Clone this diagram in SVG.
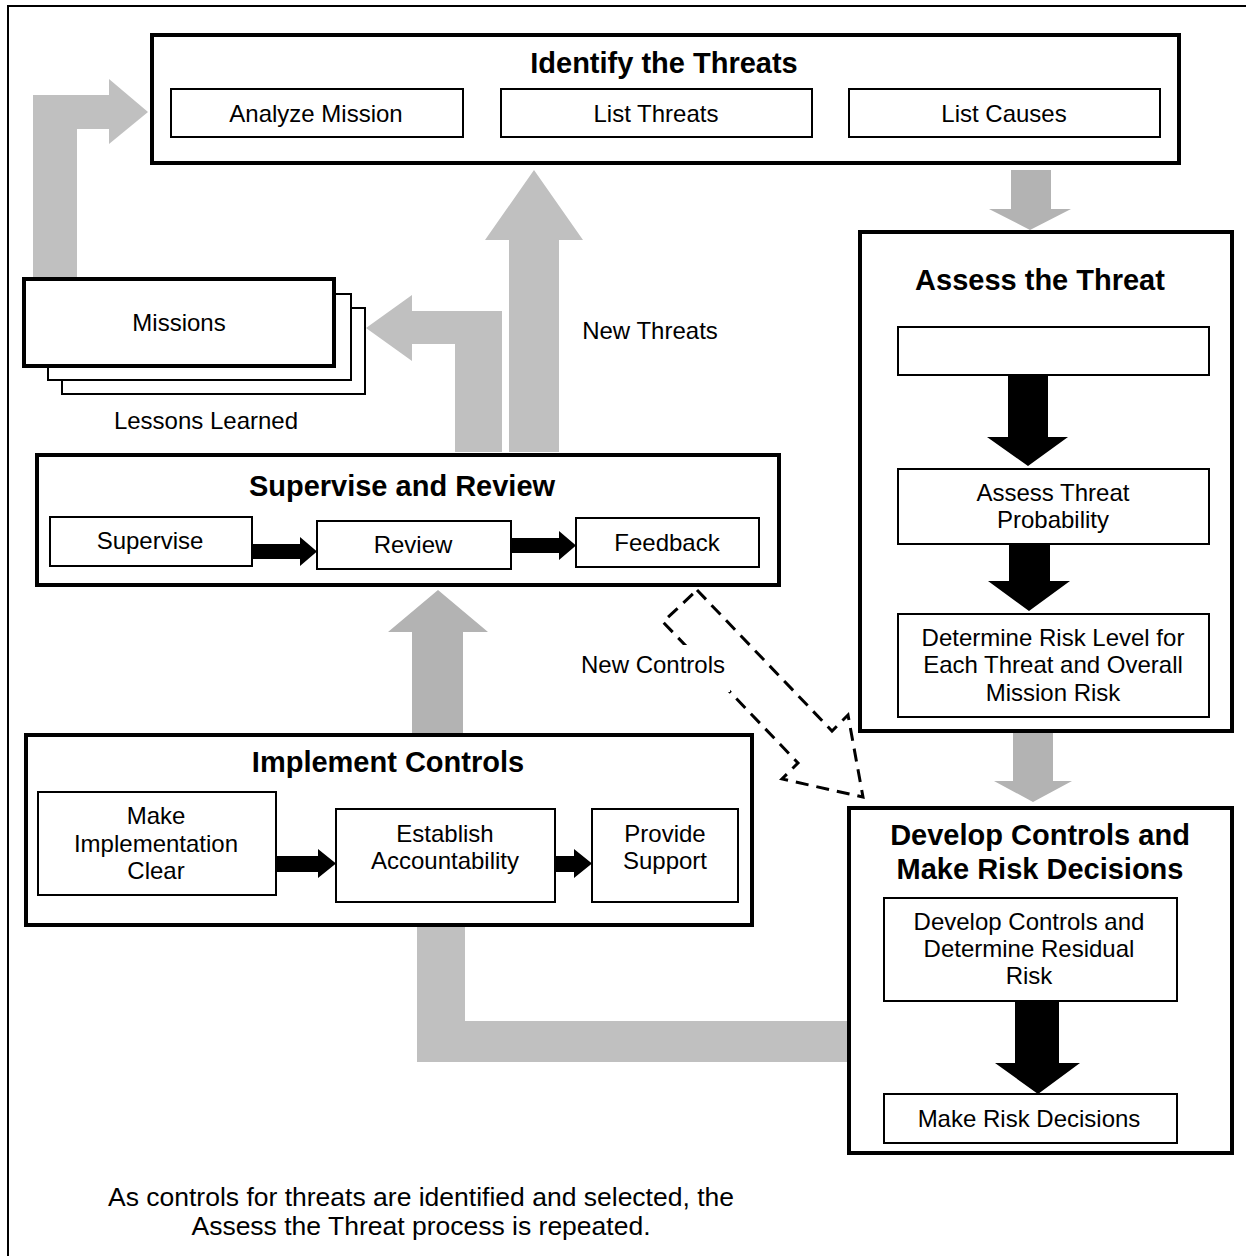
<svg xmlns="http://www.w3.org/2000/svg" width="1246" height="1256" viewBox="0 0 1246 1256">
<style>
text{font-family:"Liberation Sans",Arial,sans-serif;fill:#000;text-anchor:middle}
.t{font-size:24px}
.n{font-size:26.5px}
.h{font-size:29px;font-weight:bold}
.main{fill:#fff;stroke:#000;stroke-width:4}
.sub{fill:#fff;stroke:#000;stroke-width:2}
.g1{fill:#c0c0c0}
.g2{fill:#b3b3b3}
.blk{fill:#000}
.dash{fill:none;stroke:#000;stroke-width:3;stroke-dasharray:13 8}
</style>
<rect x="0" y="0" width="1246" height="1256" fill="#fff"/>
<rect x="8" y="6" width="1260" height="1270" fill="none" stroke="#000" stroke-width="2"/>

<g id="connectors">
<polygon class="g1" points="33,277 33,95 109,95 109,79 148,112 109,144 109,129 77,129 77,277"/>
<polygon class="g2" points="1011,170 1051,170 1051,209 1071,209 1030,230 989,209 1011,209"/>
<polygon class="g1" points="509,452 509,240 485,240 534,170 583,240 559,240 559,452"/>
<polygon class="g1" points="455,452 455,344 412,344 412,361 366,328 412,295 412,311 502,311 502,452"/>
<polygon class="g2" points="412,733 412,632 388,632 438,590 488,632 463,632 463,733"/>
<polygon class="g2" points="1013,733 1053,733 1053,781 1072,781 1033,802 994,781 1013,781"/>
<polygon class="g1" points="417,927 465,927 465,1021 849,1021 849,1062 417,1062"/>
<polygon class="dash" points="697,590 832,731 848,715 863,797 782,779 798,763 663,622"/>
<text class="t" x="650" y="339">New Threats</text>
<text class="t" x="206" y="429">Lessons Learned</text>
<rect x="578" y="645" width="152" height="47" fill="#fff"/>
<text class="t" x="653" y="673">New Controls</text>
</g>

<g id="missions">
<rect x="62" y="308" width="303" height="86" fill="#fff" stroke="#000" stroke-width="2"/>
<rect x="48" y="294" width="303" height="86" fill="#fff" stroke="#000" stroke-width="2"/>
<rect x="24" y="279" width="310" height="87" class="main"/>
<text class="t" x="179" y="331">Missions</text>
</g>

<g id="identify">
<rect x="152" y="35" width="1027" height="128" class="main"/>
<text class="h" x="664" y="73">Identify the Threats</text>
<rect x="171" y="89" width="292" height="48" class="sub"/>
<text class="t" x="316" y="122">Analyze Mission</text>
<rect x="501" y="89" width="311" height="48" class="sub"/>
<text class="t" x="656" y="122">List Threats</text>
<rect x="849" y="89" width="311" height="48" class="sub"/>
<text class="t" x="1004" y="122">List Causes</text>
</g>

<g id="assess">
<rect x="860" y="232" width="372" height="499" class="main"/>
<text class="h" x="1040" y="290">Assess the Threat</text>
<rect x="898" y="327" width="311" height="48" class="sub"/>
<polygon class="blk" points="1008,375 1048,375 1048,437 1068,437 1028,466 987,437 1008,437"/>
<rect x="898" y="469" width="311" height="75" class="sub"/>
<text class="t" x="1053" y="501">Assess Threat</text>
<text class="t" x="1053" y="528">Probability</text>
<polygon class="blk" points="1009,544 1050,544 1050,581 1070,581 1029,611 988,581 1009,581"/>
<rect x="898" y="614" width="311" height="103" class="sub"/>
<text class="t" x="1053" y="646">Determine Risk Level for</text>
<text class="t" x="1053" y="673">Each Threat and Overall</text>
<text class="t" x="1053" y="701">Mission Risk</text>
</g>

<g id="supervise">
<rect x="37" y="455" width="742" height="130" class="main"/>
<text class="h" x="402" y="496">Supervise and Review</text>
<rect x="50" y="517" width="202" height="49" class="sub"/>
<text class="t" x="150" y="549">Supervise</text>
<polygon class="blk" points="252,544 300,544 300,537 317,551.5 300,566 300,559 252,559"/>
<rect x="317" y="521" width="194" height="48" class="sub"/>
<text class="t" x="413" y="553">Review</text>
<polygon class="blk" points="511,538 559,538 559,531 576,545.5 559,560 559,553 511,553"/>
<rect x="576" y="518" width="183" height="49" class="sub"/>
<text class="t" x="667" y="551">Feedback</text>
</g>

<g id="implement">
<rect x="26" y="735" width="726" height="190" class="main"/>
<text class="h" x="388" y="772">Implement Controls</text>
<rect x="38" y="792" width="238" height="103" class="sub"/>
<text class="t" x="156" y="824">Make</text>
<text class="t" x="156" y="852">Implementation</text>
<text class="t" x="156" y="879">Clear</text>
<polygon class="blk" points="276,856 318,856 318,849 336,863.5 318,878 318,872 276,872"/>
<rect x="336" y="809" width="219" height="93" class="sub"/>
<text class="t" x="445" y="842">Establish</text>
<text class="t" x="445" y="869">Accountability</text>
<polygon class="blk" points="555,856 574,856 574,849 592,863.5 574,878 574,872 555,872"/>
<rect x="592" y="809" width="146" height="93" class="sub"/>
<text class="t" x="665" y="842">Provide</text>
<text class="t" x="665" y="869">Support</text>
</g>

<g id="develop">
<rect x="849" y="808" width="383" height="345" class="main"/>
<text class="h" x="1040" y="845">Develop Controls and</text>
<text class="h" x="1040" y="879">Make Risk Decisions</text>
<rect x="884" y="898" width="293" height="103" class="sub"/>
<text class="t" x="1029" y="930">Develop Controls and</text>
<text class="t" x="1029" y="957">Determine Residual</text>
<text class="t" x="1029" y="984">Risk</text>
<polygon class="blk" points="1015,1001 1059,1001 1059,1063 1080,1063 1038,1094 995,1063 1015,1063"/>
<rect x="884" y="1094" width="293" height="49" class="sub"/>
<text class="t" x="1029" y="1127">Make Risk Decisions</text>
</g>

<g id="note">
<text class="n" x="421" y="1206">As controls for threats are identified and selected, the</text>
<text class="n" x="421" y="1235">Assess the Threat process is repeated.</text>
</g>
</svg>
